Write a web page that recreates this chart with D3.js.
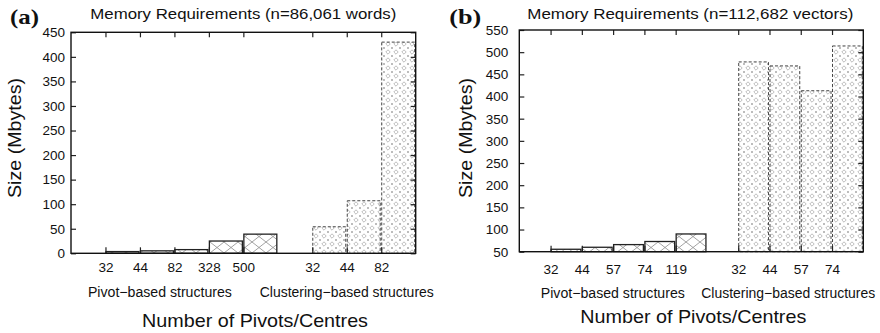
<!DOCTYPE html>
<html lang="en">
<head>
<meta charset="UTF-8">
<title>Memory Requirements</title>
<script src="https://d3js.org/d3.v7.min.js"></script>
<style>
    body { margin: 0; padding: 0; background: #fff; }
    svg { display: block; }
    text { font-family: "Liberation Sans", Arial, Helvetica, sans-serif; fill: #111; }
    .tick text { font-size: 13.5px; }
    .letter { font-family: "Liberation Serif", "Times New Roman", serif; font-weight: bold; }
</style>
</head>
<body>
<div id="chart"></div>
<script>
    // panel (a): words
    var aTitle = "Memory Requirements (n=86,061 words)";
    var aPivotLabels = ["32", "44", "82", "328", "500"];
    var aPivotValues = [3.5, 5, 7.5, 25, 39];
    var aClusterLabels = ["32", "44", "82"];
    var aClusterValues = [54, 107, 430];
    var aYTicks = [0, 50, 100, 150, 200, 250, 300, 350, 400, 450];

    // panel (b): vectors
    var bTitle = "Memory Requirements (n=112,682 vectors)";
    var bPivotLabels = ["32", "44", "57", "74", "119"];
    var bPivotValues = [55.5, 60, 66, 73, 90];
    var bClusterLabels = ["32", "44", "57", "74"];
    var bClusterValues = [478, 469, 413, 514];
    var bYTicks = [50, 100, 150, 200, 250, 300, 350, 400, 450, 500, 550];

    var svg = d3.select("#chart").append("svg")
        .attr("width", 880)
        .attr("height", 333);

    var defs = svg.append("defs");

    // crosshatch for pivot bars
    var p1 = defs.append("pattern")
        .attr("id", "hatchPivot")
        .attr("patternUnits", "userSpaceOnUse")
        .attr("width", 14).attr("height", 11);
    p1.append("path").attr("d", "M0,0L14,11M14,0L0,11")
        .attr("stroke", "#8a8a8a").attr("stroke-width", 0.8);

    // diamonds and crosses for clustering bars
    var p2 = defs.append("pattern")
        .attr("id", "hatchCluster")
        .attr("patternUnits", "userSpaceOnUse")
        .attr("width", 8).attr("height", 8);
    p2.append("path").attr("d", "M4,1.8L6.2,4L4,6.2L1.8,4Z")
        .attr("fill", "none").attr("stroke", "#a0a0a0").attr("stroke-width", 0.7);
    p2.append("path").attr("d", "M-1,-1L1,1M1,-1L-1,1M7,-1L9,1M9,-1L7,1M-1,7L1,9M1,7L-1,9M7,7L9,9M9,7L7,9")
        .attr("stroke", "#a0a0a0").attr("stroke-width", 0.7);

    function stretched(sel, len) {
        return sel.attr("textLength", len).attr("lengthAdjust", "spacingAndGlyphs");
    }

    function drawPanel(cfg) {
        var x = d3.scaleLinear().domain([0, cfg.xMax]).range([cfg.left, cfg.right]);
        var y = d3.scaleLinear().domain([cfg.yTicks[0], cfg.yTicks[cfg.yTicks.length - 1]])
            .range([cfg.bottom, cfg.top]);
        var g = svg.append("g");

        var bars = [];
        cfg.pivotValues.forEach(function (v, i) {
            bars.push({ pos: i + 1, value: v, label: cfg.pivotLabels[i], kind: "pivot" });
        });
        cfg.clusterValues.forEach(function (v, i) {
            bars.push({ pos: i + 7, value: v, label: cfg.clusterLabels[i], kind: "cluster" });
        });

        g.selectAll("rect.bar")
            .data(bars)
            .enter()
            .append("rect")
            .attr("class", "bar")
            .attr("x", function (d) { return x(d.pos) + 0.5; })
            .attr("width", function (d) { return x(d.pos + 1) - x(d.pos) - 1.5; })
            .attr("y", function (d) { return y(d.value); })
            .attr("height", function (d) { return y.range()[0] - y(d.value); })
            .attr("fill", function (d) { return d.kind == "pivot" ? "url(#hatchPivot)" : "url(#hatchCluster)"; })
            .attr("stroke", function (d) { return d.kind == "pivot" ? "#222" : "#444"; })
            .attr("stroke-width", function (d) { return d.kind == "pivot" ? 1.3 : 1; })
            .attr("stroke-dasharray", function (d) { return d.kind == "pivot" ? null : "3,2"; });

        var tickPos = bars.map(function (d) { return d.pos; });

        // x axis bottom with category labels
        g.append("g")
            .attr("transform", "translate(0," + cfg.bottom + ")")
            .call(d3.axisBottom(x).tickValues(tickPos)
                .tickFormat(function (d, i) { return bars[i].label; })
                .tickSizeInner(-6).tickSizeOuter(0).tickPadding(cfg.xPad))
            .call(function (a) { a.select(".domain").remove(); });

        // mirrored ticks on top
        g.append("g")
            .attr("transform", "translate(0," + cfg.top + ")")
            .call(d3.axisTop(x).tickValues(tickPos).tickFormat("")
                .tickSizeInner(-5).tickSizeOuter(0))
            .call(function (a) { a.select(".domain").remove(); });

        // y axis
        g.append("g")
            .attr("transform", "translate(" + cfg.left + ",0)")
            .call(d3.axisLeft(y).tickValues(cfg.yTicks)
                .tickSizeInner(-5).tickSizeOuter(0).tickPadding(cfg.yPad))
            .call(function (a) { a.select(".domain").remove(); });

        g.append("g")
            .attr("transform", "translate(" + cfg.right + ",0)")
            .call(d3.axisRight(y).tickValues(cfg.yTicks).tickFormat("")
                .tickSizeInner(-5).tickSizeOuter(0))
            .call(function (a) { a.select(".domain").remove(); });

        g.selectAll(".tick line").attr("stroke", "#222").attr("stroke-width", 1.2);
        g.selectAll(".tick text").attr("fill", "#111");

        // plot border
        g.append("rect")
            .attr("x", cfg.left).attr("y", cfg.top)
            .attr("width", cfg.right - cfg.left)
            .attr("height", cfg.bottom - cfg.top)
            .attr("fill", "none").attr("stroke", "#111").attr("stroke-width", 1.4);

        // title
        stretched(g.append("text")
            .attr("x", cfg.titleX).attr("y", cfg.titleY)
            .attr("text-anchor", "middle")
            .style("font-size", "15px")
            .text(cfg.title), cfg.titleW);

        // panel letter
        stretched(g.append("text")
            .attr("class", "letter")
            .attr("x", cfg.letterX).attr("y", 24)
            .style("font-size", "21px")
            .text(cfg.letter), cfg.letterW);

        // y label
        stretched(g.append("text")
            .attr("transform", "translate(" + cfg.yLabelX + ",138) rotate(-90)")
            .attr("text-anchor", "middle")
            .style("font-size", "18px")
            .text("Size (Mbytes)"), 120);

        // group labels
        stretched(g.append("text")
            .attr("x", x(cfg.pivotCenter)).attr("y", cfg.groupY)
            .attr("text-anchor", "middle")
            .style("font-size", "14px")
            .text("Pivot\u2212based structures"), 144);
        stretched(g.append("text")
            .attr("x", x(cfg.clusterCenter)).attr("y", cfg.groupY)
            .attr("text-anchor", "middle")
            .style("font-size", "14px")
            .text("Clustering\u2212based structures"), 174);

        // x label
        stretched(g.append("text")
            .attr("x", cfg.xLabelX).attr("y", cfg.xLabelY)
            .attr("text-anchor", "middle")
            .style("font-size", "19px")
            .text("Number of Pivots/Centres"), 226);
    }

    drawPanel({
        title: aTitle, letter: "(a)",
        pivotLabels: aPivotLabels, pivotValues: aPivotValues,
        clusterLabels: aClusterLabels, clusterValues: aClusterValues,
        yTicks: aYTicks, xMax: 10,
        left: 71, right: 415.7, top: 32.3, bottom: 253.3,
        xPad: 9.4, yPad: 6,
        titleX: 243.3, titleY: 19, titleW: 306,
        letterX: 10, letterW: 29,
        yLabelX: 20.7,
        pivotCenter: 2.58, clusterCenter: 8.0, groupY: 296.7,
        xLabelX: 255, xLabelY: 326.7
    });

    drawPanel({
        title: bTitle, letter: "(b)",
        pivotLabels: bPivotLabels, pivotValues: bPivotValues,
        clusterLabels: bClusterLabels, clusterValues: bClusterValues,
        yTicks: bYTicks, xMax: 11,
        left: 519.3, right: 863.3, top: 30, bottom: 251.7,
        xPad: 12.6, yPad: 11,
        titleX: 690.3, titleY: 18.5, titleW: 326,
        letterX: 449.3, letterW: 32,
        yLabelX: 471.7,
        pivotCenter: 2.99, clusterCenter: 8.6, groupY: 298.3,
        xLabelX: 693.3, xLabelY: 323.3
    });
</script>
</body>
</html>
